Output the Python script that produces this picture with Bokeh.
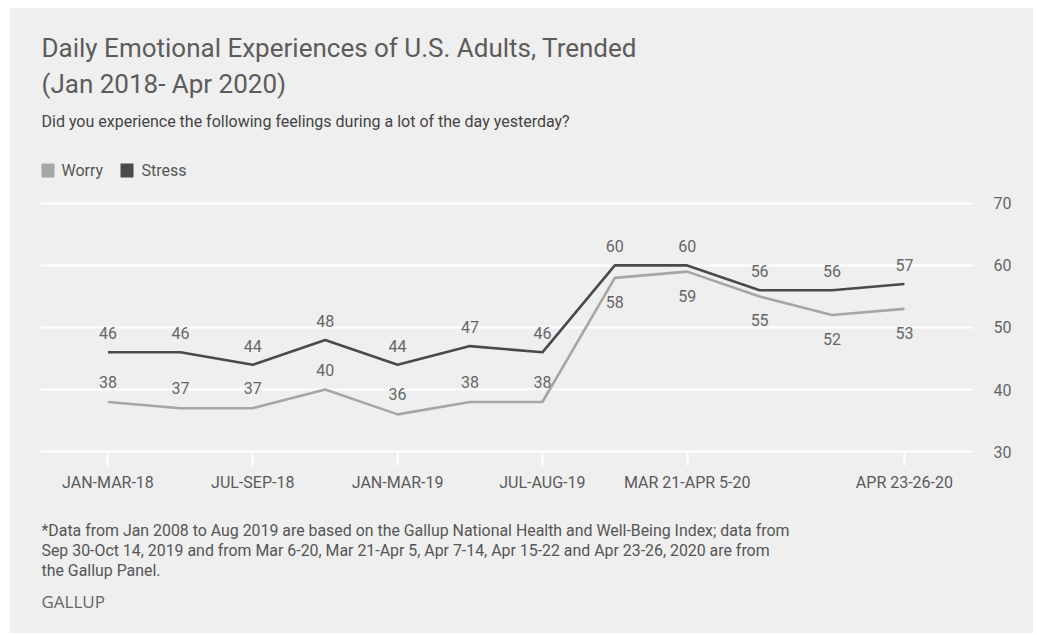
from bokeh.plotting import figure
from bokeh.layouts import column
from bokeh.models import Range1d, FixedTicker, Label, BoxAnnotation, ColumnDataSource
from bokeh.core.properties import value
from bokeh.embed import file_html
from bokeh.resources import INLINE

# ---- data ----
periods = ["JAN-MAR-18", "APR-JUN-18", "JUL-SEP-18", "OCT-DEC-18", "JAN-MAR-19",
           "APR-JUN-19", "JUL-AUG-19", "MAR 6-20-20", "MAR 21-APR 5-20",
           "APR 7-14-20", "APR 15-22-20", "APR 23-26-20"]
labeled_periods = ["JAN-MAR-18", "JUL-SEP-18", "JAN-MAR-19", "JUL-AUG-19",
                   "MAR 21-APR 5-20", "APR 23-26-20"]
worry = [38, 37, 37, 40, 36, 38, 38, 58, 59, 55, 52, 53]
stress = [46, 46, 44, 48, 44, 47, 46, 60, 60, 56, 56, 57]
y_ticks = [30, 40, 50, 60, 70]

title_lines = ["Daily Emotional Experiences of U.S. Adults, Trended",
               "(Jan 2018- Apr 2020)"]
subtitle = "Did you experience the following feelings during a lot of the day yesterday?"
legend_names = ["Worry", "Stress"]
footnote_lines = [
    "*Data from Jan 2008 to Aug 2019 are based on the Gallup National Health and Well-Being Index; data from",
    "Sep 30-Oct 14, 2019 and from Mar 6-20, Mar 21-Apr 5, Apr 7-14, Apr 15-22 and Apr 23-26, 2020 are from",
    "the Gallup Panel.",
]
source_label = "GALLUP"

# ---- styles ----
BG = "#efefef"
WORRY_C = "#a6a6a6"
STRESS_C = "#4a4a4a"
FONT = "Roboto"
W = 1023

xs = list(range(len(periods)))
tick_idx = [periods.index(p) for p in labeled_periods]

# ---------------- main chart ----------------
# canvas spans page y 8..500; frame spans page x 40..973, y 8..453
p = figure(width=W, height=492, output_backend="svg", toolbar_location=None,
           x_range=Range1d(-0.932, 11.954), y_range=Range1d(29.7, 101.39),
           y_axis_location="right")
p.min_border_left = 30
p.min_border_right = 60
p.min_border_top = 0
p.min_border_bottom = 47
p.background_fill_color = BG
p.border_fill_color = BG
p.outline_line_color = None

p.xgrid.visible = False
p.yaxis.ticker = FixedTicker(ticks=y_ticks)
p.ygrid.ticker = FixedTicker(ticks=y_ticks)
p.ygrid.grid_line_color = "white"
p.ygrid.grid_line_width = 2

p.yaxis.axis_line_color = None
p.yaxis.major_tick_line_color = None
p.yaxis.minor_tick_line_color = None
p.yaxis.major_label_standoff = 14
p.yaxis.major_label_text_font = FONT
p.yaxis.major_label_text_font_size = "16px"
p.yaxis.major_label_text_color = "#666666"

p.xaxis.ticker = FixedTicker(ticks=tick_idx)
p.xaxis.major_label_overrides = {i: periods[i] for i in tick_idx}
p.xaxis.axis_line_color = None
p.xaxis.major_tick_line_color = "white"
p.xaxis.major_tick_line_width = 2
p.xaxis.major_tick_in = 0
p.xaxis.major_tick_out = 12
p.xaxis.minor_tick_line_color = None
p.xaxis.major_label_standoff = 7
p.xaxis.major_label_text_font = FONT
p.xaxis.major_label_text_font_size = "16px"
p.xaxis.major_label_text_color = "#5a5a5a"

p.line(xs, worry, line_color=WORRY_C, line_width=2.6)
p.line(xs, stress, line_color=STRESS_C, line_width=2.6)

worry_off = [24 if (s - w) < 5 else -20 for s, w in zip(stress, worry)]
lab_src = ColumnDataSource(dict(
    x=xs + xs,
    y=stress + worry,
    t=[str(v) for v in stress + worry],
    off=[-19] * len(stress) + worry_off,
))
p.text(x="x", y="y", text="t", source=lab_src, y_offset="off",
       text_align="center", text_baseline="middle",
       text_font=value(FONT), text_font_size="16px", text_color="#666666")


def add_text(fig, txt, sx, sy, size, color, font=FONT):
    fig.add_layout(Label(x=sx, y=sy, x_units="screen", y_units="screen",
                         text=txt, text_font=font, text_font_size=size,
                         text_color=color, text_baseline="middle", text_align="left"))


# screen units are relative to the frame (left = page x 40, bottom = page y 453)
FL, FB = 40, 453
add_text(p, title_lines[0], 41 - FL, FB - 47.5, "26px", "#5c5c5c")
add_text(p, title_lines[1], 41 - FL, FB - 83, "26px", "#5c5c5c")
add_text(p, subtitle, 41 - FL, FB - 120.5, "16px", "#444444")

for name, col, bx, tx in zip(legend_names, [WORRY_C, STRESS_C], [41, 120], [61, 141]):
    p.add_layout(BoxAnnotation(left=bx - FL, right=bx + 13 - FL, top=FB - 163, bottom=FB - 177,
                               left_units="screen", right_units="screen",
                               top_units="screen", bottom_units="screen",
                               fill_color=col, fill_alpha=1, line_color=None))
    add_text(p, name, tx - FL, FB - 170, "16px", "#555555")

# ---------------- footnote strip ----------------
# canvas spans page y 500..633; its frame is aligned with the chart frame (left = page x 40)
f = figure(width=W, height=133, output_backend="svg", toolbar_location=None,
           x_range=Range1d(0, 1), y_range=Range1d(0, 1),
           x_axis_type=None, y_axis_type=None, min_border=0)
f.background_fill_color = BG
f.border_fill_color = BG
f.outline_line_color = None
f.xgrid.visible = False
f.ygrid.visible = False
GL, GB = 40, 633
for i, line in enumerate(footnote_lines):
    add_text(f, line, 41 - GL, GB - (529.5 + 20 * i), "15.9px", "#555555")
add_text(f, source_label, 41 - GL, GB - 600.5, "17px", "#666666", "Open Sans")

layout = column(p, f, spacing=0)
layout.styles = {"margin-left": "10px", "margin-top": "8px", "background-color": BG}

open("out.html", "w").write(file_html(layout, INLINE))
